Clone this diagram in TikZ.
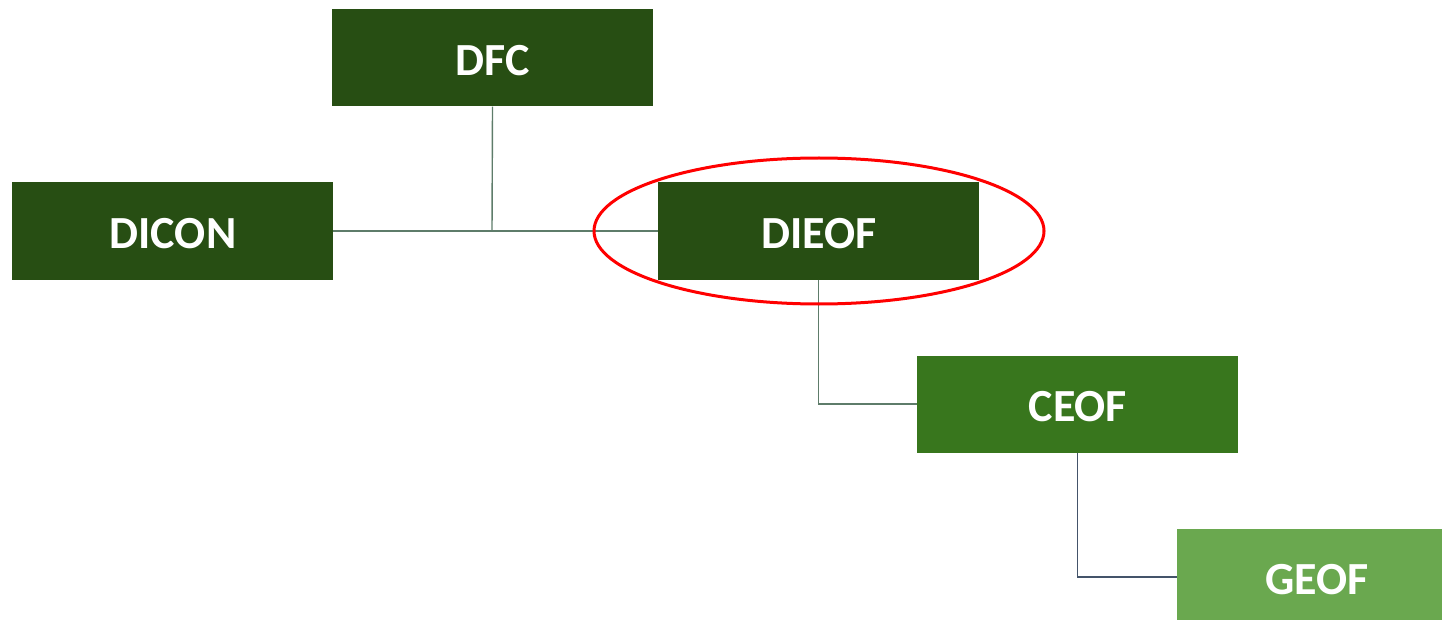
\documentclass[tikz,border=0pt]{standalone}
\usepackage{fontspec}
\setmainfont{Carlito}
\usetikzlibrary{shapes.geometric}
\definecolor{dkg}{HTML}{274E13}
\definecolor{mdg}{HTML}{38761D}
\definecolor{ltg}{HTML}{6AA84F}
\definecolor{conn}{HTML}{5E7C6A}
\definecolor{conn2}{HTML}{44546A}
\begin{document}
\begin{tikzpicture}[x=1pt,y=-1pt,
  box/.style={draw=none,minimum width=321pt,minimum height=97pt,inner sep=0pt,text=white,font=\fontsize{46}{50}\selectfont\bfseries},
  lbl/.style={inner sep=0pt,text=white,font=\fontsize{46}{50}\selectfont\bfseries},
  link/.style={conn,line width=1.4pt}]
\useasboundingbox (0,0) rectangle (1442,620);
\node[box,fill=dkg] (dfc) at (492.5,58) {};
\node[box,fill=dkg] (dicon) at (172.5,231) {};
\node[box,fill=dkg] (dieof) at (818.5,231) {};
\node[box,fill=mdg] (ceof) at (1077.5,404) {};
\node[lbl] (tdfc) at (493,61) {DFC};
\node[lbl] (tdicon) at (173,234) {DICON};
\node[lbl] (tdieof) at (819,234) {DIEOF};
\node[lbl] (tceof) at (1078,407) {CEOF};
\fill[ltg] (1177,529) rectangle (1442,620);
\node[lbl] (geof) at (1317,580) {GEOF};
\coordinate (geofw) at (1177,577);
\coordinate (j1) at (492,231);
\draw[link] (dfc.south) -- (j1);
\draw[link] (dicon.east) -- (dieof.west);
\draw[link] (dieof.south) |- (ceof.west);
\draw[conn2,line width=1.6pt] (ceof.south) |- (geofw);
\node[draw=red,line width=3pt,ellipse,minimum width=450pt,minimum height=146pt,inner sep=0pt] (ell) at (819,231) {};
\end{tikzpicture}
\end{document}
